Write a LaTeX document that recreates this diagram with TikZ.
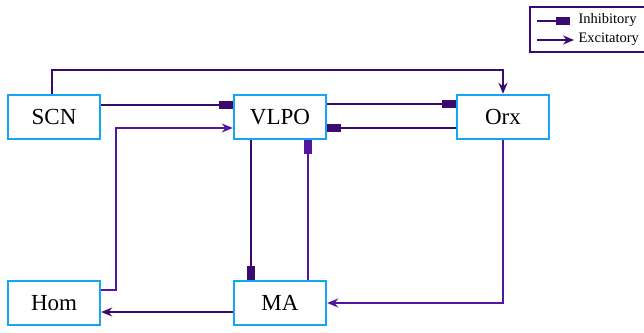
\documentclass[tikz,border=0pt]{standalone}
\usepackage{fontspec}
\setmainfont{Liberation Serif}
\usepackage{tikz}
\usetikzlibrary{arrows.meta}

\definecolor{darkpurple}{RGB}{58,10,110}
\definecolor{midpurple}{RGB}{84,22,158}
\definecolor{boxblue}{RGB}{20,165,245}

\begin{document}
\begin{tikzpicture}[x=1pt,y=-1pt,
  area/.style={draw=boxblue,line width=2.4pt,fill=white,minimum width=92pt,minimum height=44pt,font=\fontsize{23}{25}\selectfont},
  inh/.style={line width=2pt,-{Rectangle[length=14pt,width=7.5pt]}},
  exc/.style={line width=2pt,-{Stealth[length=11pt,width=9pt,inset=3.5pt]}}]

% Bounding box
\useasboundingbox (0,0) rectangle (644,332);

% Regions
\node[area] (scn)  at (54,117)  {SCN};
\node[area] (vlpo) at (280,117) {VLPO};
\node[area] (orx)  at (503,117) {Orx};
\node[area] (hom)  at (54,303)  {Hom};
\node[area] (ma)   at (280,303) {MA};

% SCN to Orx over the top
\draw[exc,darkpurple] ([xshift=-2pt]scn.north) -- ++(0,-24) -| (orx.north);

% SCN -| VLPO
\draw[inh,darkpurple] ([yshift=12pt]scn.east) -- ([yshift=12pt]vlpo.west);

% Hom to VLPO
\draw[exc,midpurple] ([yshift=13pt]hom.east) -- ++(15,0) |- ([yshift=-11pt]vlpo.west);

% VLPO and Orx
\draw[inh,darkpurple] ([yshift=13pt]vlpo.east) -- ([yshift=13pt]orx.west);
\draw[inh,darkpurple] ([yshift=-11pt]orx.west) -- ([yshift=-11pt]vlpo.east);

% VLPO and MA
\draw[inh,darkpurple] ([xshift=-29pt]vlpo.south) -- ([xshift=-29pt]ma.north);
\draw[inh,midpurple] ([xshift=28pt]ma.north) -- ([xshift=28pt]vlpo.south);

% Orx to MA
\draw[exc,midpurple] (orx.south) |- (ma.east);

% MA to Hom
\draw[exc,darkpurple] ([yshift=-9pt]ma.west) -- ([yshift=-9pt]hom.east);

% Legend
\draw[darkpurple,line width=2.5pt,fill=white] (530,7) rectangle (650,52);
\coordinate (li) at (537,21);
\coordinate (le) at (537,40);
\draw[inh,darkpurple] (li) -- ++(33,0);
\draw[exc,darkpurple] (le) -- ++(37,0);
\node[anchor=west,font=\fontsize{14.5}{16}\selectfont] (tinh) at (575,20) {Inhibitory};
\node[anchor=west,font=\fontsize{14.5}{16}\selectfont] (texc) at (575,39.5) {Excitatory};

\end{tikzpicture}
\end{document}
